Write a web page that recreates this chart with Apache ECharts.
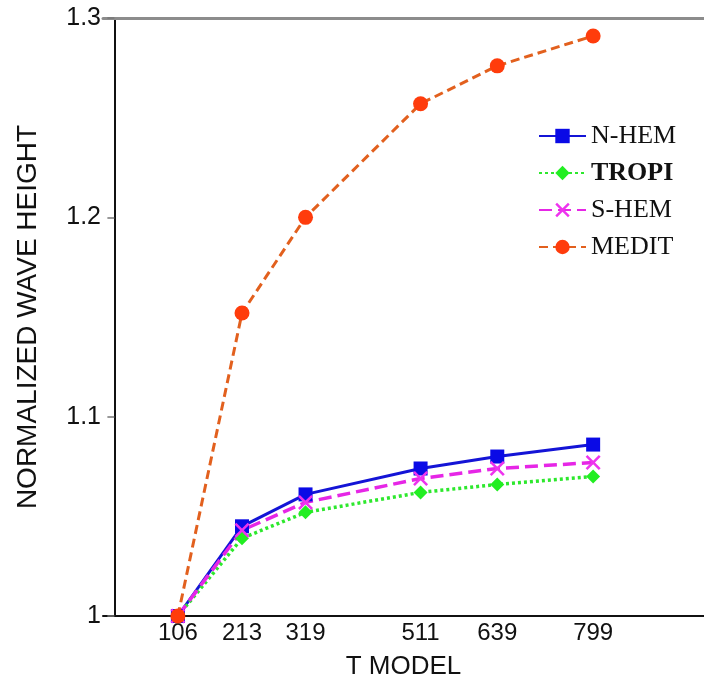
<!DOCTYPE html>
<html>
<head>
<meta charset="utf-8">
<script src="https://cdn.jsdelivr.net/npm/echarts@6/dist/echarts.min.js"></script>
<style>html,body{margin:0;padding:0;background:#fff}#c{width:704px;height:685px}</style>
</head>
<body>
<div id="c"></div>
<script>
const tModels = [106, 213, 319, 511, 639, 799];
const nHem  = [1.000, 1.045, 1.061, 1.074, 1.080, 1.086];
const tropi = [1.000, 1.039, 1.052, 1.062, 1.066, 1.070];
const sHem  = [1.000, 1.043, 1.057, 1.069, 1.074, 1.077];
const medit = [1.000, 1.152, 1.200, 1.257, 1.276, 1.291];
const yTicks = [1, 1.1, 1.2, 1.3];

const pair = arr => tModels.map((t, i) => [t, arr[i]]);
const xPath = 'path://M0,1.2 L1.2,0 L5,3.8 L8.8,0 L10,1.2 L6.2,5 L10,8.8 L8.8,10 L5,6.2 L1.2,10 L0,8.8 L3.8,5 Z';

const chart = echarts.init(document.getElementById('c'), null, {renderer: 'canvas'});
chart.setOption({
  animation: false,
  backgroundColor: '#fff',
  grid: {left: 103, right: 0, top: 18, bottom: 65},
  legend: {
    orient: 'vertical', left: 533, top: 118,
    itemWidth: 47, itemHeight: 18, itemGap: 11,
    data: ['N-HEM', 'TROPI', 'S-HEM', 'MEDIT'],
    formatter: n => n === 'TROPI' ? '{b|' + n + '}' : n,
    textStyle: {
      fontFamily: 'Liberation Serif', fontSize: 26, color: '#111', lineHeight: 26,
      rich: {b: {fontFamily: 'Liberation Serif', fontSize: 26, fontWeight: 'bold', color: '#111'}}
    }
  },
  xAxis: [{
    type: 'value', min: -19, max: 984,
    name: 'T MODEL', nameLocation: 'middle', nameGap: 38,
    nameTextStyle: {fontFamily: 'Liberation Sans', fontSize: 26, color: '#111'},
    axisLine: {lineStyle: {color: '#111', width: 2}},
    axisTick: {show: false},
    splitLine: {show: false},
    axisLabel: {customValues: tModels, margin: 5, fontFamily: 'Liberation Sans', fontSize: 24, color: '#111'}
  }, {
    type: 'value', position: 'top', min: -19, max: 984,
    axisLine: {show: true, lineStyle: {color: '#8c8c8c', width: 3}},
    axisTick: {show: false}, axisLabel: {show: false}, splitLine: {show: false}
  }],
  yAxis: {
    type: 'value', min: 1, max: 1.3, interval: 0.1, offset: -10,
    name: 'NORMALIZED WAVE HEIGHT', nameLocation: 'middle', nameGap: 71, nameRotate: 90,
    nameTextStyle: {fontFamily: 'Liberation Sans', fontSize: 28, color: '#111'},
    axisLine: {show: true, lineStyle: {color: '#111', width: 2}},
    axisTick: {show: true, length: 7, lineStyle: {color: '#777', width: 1.5}},
    splitLine: {show: false},
    axisLabel: {
      customValues: yTicks, margin: 12, fontFamily: 'Liberation Sans', fontSize: 25, color: '#111',
      formatter: v => String(+v.toFixed(1))
    }
  },
  series: [{
    name: 'N-HEM', type: 'line', data: pair(nHem),
    symbol: 'rect', symbolSize: 14,
    lineStyle: {color: '#1414d6', width: 3, type: 'solid'},
    itemStyle: {color: '#0a0ae6'}
  }, {
    name: 'TROPI', type: 'line', data: pair(tropi),
    symbol: 'diamond', symbolSize: 14,
    lineStyle: {color: '#2de82d', width: 3.5, type: [3, 3]},
    itemStyle: {color: '#22ee22'}
  }, {
    name: 'S-HEM', type: 'line', data: pair(sHem),
    symbol: xPath, symbolSize: 15,
    lineStyle: {color: '#e626e6', width: 3.5, type: [13, 6]},
    itemStyle: {color: '#ee33ee'}
  }, {
    name: 'MEDIT', type: 'line', data: pair(medit),
    symbol: 'circle', symbolSize: 15,
    lineStyle: {color: '#e2601e', width: 3, type: [9, 5]},
    itemStyle: {color: '#ff3c0c'}
  }]
});
</script>
</body>
</html>
